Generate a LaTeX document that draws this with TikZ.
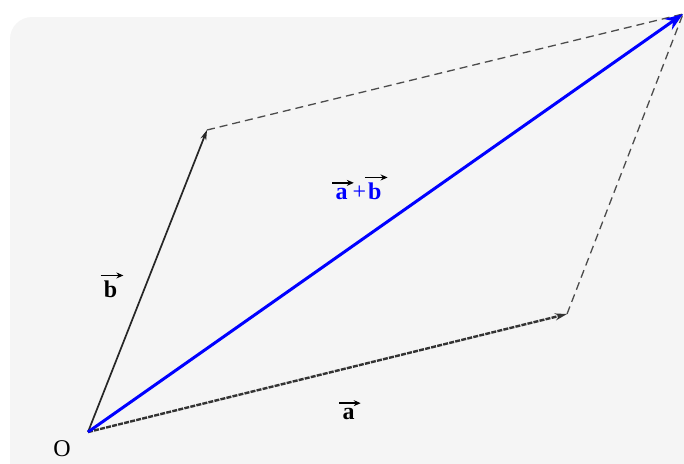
\documentclass[tikz,border=0pt]{standalone}
\usepackage{fontspec}
\setmainfont{Liberation Serif}
\usetikzlibrary{arrows.meta}
\newcommand{\myvec}[1]{\tikz[baseline=(L.base)]{\node[inner sep=0pt] (L) {\textbf{#1}};\draw[-{Stealth[length=7pt,width=6pt]},line width=1.5pt,black] ([xshift=-3pt,yshift=5pt]L.north west) -- ([xshift=6pt,yshift=5pt]L.north east);}}
\tikzset{
  lbl/.style={font=\fontsize{24}{28}\selectfont, inner sep=0pt},
  vecb/.style={line width=1.7pt, black!85, -{Stealth[length=10pt,width=6pt]}},
  veca/.style={line width=2.4pt, black!80, dash pattern=on 5pt off 1.2pt, -{Stealth[length=12pt,width=7pt]}},
  sum/.style={line width=3pt, blue, -{Stealth[length=18pt,width=13pt]}},
  guide/.style={line width=1.3pt, black!70, dash pattern=on 8pt off 5pt}
}
\begin{document}
\begin{tikzpicture}[x=1pt,y=-1pt]
\useasboundingbox (0,0) rectangle (684,463);
\begin{scope}
\clip (0,0) rectangle (684,463);
\fill[black!4, rounded corners=22pt] (10,17) rectangle (720,500);
\end{scope}
\coordinate (O) at (88,432);
\coordinate (A) at (567,314);
\coordinate (B) at (207,130);
\coordinate (S) at (683,14);
\draw[guide] (B) -- (S);
\draw[guide] (A) -- (S);
\draw[vecb] (O) -- (B);
\draw[veca] (O) -- (A);
\draw[sum] (O) -- (S);
\node[lbl] (lo) at (62,449) {O};
\node[lbl] (la) at (350,410) {\myvec{a}};
\node[lbl] (lb) at (112,285) {\myvec{b}};
\node[lbl,text=blue] (ls) at (360,187) {\myvec{a}\hspace{-2pt}+\hspace{-2pt}\myvec{b}};
\end{tikzpicture}
\end{document}
